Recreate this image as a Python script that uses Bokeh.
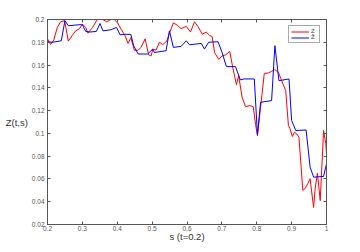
from bokeh.plotting import figure
from bokeh.models import Range1d, FixedTicker, LinearAxis, Legend, LegendItem
from bokeh.embed import file_html
from bokeh.resources import INLINE

# ---- data ----
red_s = [0.200, 0.2086, 0.218, 0.228, 0.2375, 0.249, 0.2597, 0.271, 0.2807, 0.292,
         0.300, 0.3095, 0.316, 0.329, 0.343, 0.358, 0.370, 0.3816, 0.391, 0.401,
         0.412, 0.422, 0.431, 0.439, 0.449, 0.460, 0.468, 0.480, 0.490, 0.497,
         0.502, 0.511, 0.521, 0.5305, 0.542, 0.5496, 0.561, 0.572, 0.583, 0.598,
         0.610, 0.6216, 0.631, 0.644, 0.655, 0.665, 0.672, 0.679, 0.691, 0.7006,
         0.711, 0.7225, 0.732, 0.7418, 0.748, 0.758, 0.7677, 0.780, 0.790, 0.7965,
         0.802, 0.8216, 0.833, 0.8426, 0.852, 0.862, 0.8715, 0.883, 0.8908, 0.8954,
         0.902, 0.908, 0.9147, 0.921, 0.932, 0.9386, 0.9464, 0.953, 0.963, 0.9675,
         0.974, 0.982, 0.9916, 0.998, 1.000]
red_z = [0.183, 0.178, 0.182, 0.193, 0.198, 0.199, 0.181, 0.186, 0.190, 0.192,
         0.196, 0.193, 0.188, 0.193, 0.200, 0.200, 0.198, 0.200, 0.200, 0.197,
         0.191, 0.186, 0.179, 0.184, 0.173, 0.173, 0.1755, 0.183, 0.169, 0.168,
         0.174, 0.173, 0.180, 0.178, 0.181, 0.188, 0.197, 0.195, 0.192, 0.194,
         0.189, 0.198, 0.194, 0.187, 0.189, 0.186, 0.185, 0.171, 0.165, 0.168,
         0.169, 0.172, 0.1566, 0.1428, 0.1507, 0.1317, 0.1235, 0.1244, 0.1235, 0.108,
         0.098, 0.1527, 0.153, 0.1545, 0.156, 0.1536, 0.1463, 0.1376, 0.107, 0.104,
         0.0973, 0.101, 0.0996, 0.0967, 0.050, 0.0515, 0.056, 0.0602, 0.035, 0.0515,
         0.065, 0.041, 0.1025, 0.091, 0.082]

blue_s = [0.200, 0.2135, 0.2395, 0.250, 0.2597, 0.290, 0.300, 0.3095, 0.322, 0.340,
          0.3507, 0.359, 0.3816, 0.398, 0.408, 0.4248, 0.439, 0.447, 0.460, 0.487,
          0.5017, 0.5063, 0.540, 0.5496, 0.561, 0.583, 0.598, 0.607, 0.641, 0.650,
          0.662, 0.689, 0.7006, 0.713, 0.739, 0.753, 0.764, 0.793, 0.802, 0.811,
          0.8426, 0.852, 0.8637, 0.8925, 0.900, 0.912, 0.9415, 0.953, 0.963, 0.9916,
          1.000]
blue_z = [0.1805, 0.180, 0.1813, 0.199, 0.1945, 0.1954, 0.1954, 0.1895, 0.189, 0.1895,
          0.1965, 0.190, 0.191, 0.193, 0.1866, 0.187, 0.187, 0.177, 0.1697, 0.1697,
          0.174, 0.171, 0.1726, 0.190, 0.1755, 0.1764, 0.1813, 0.1778, 0.179, 0.174,
          0.180, 0.1805, 0.171, 0.1586, 0.1586, 0.147, 0.1478, 0.1478, 0.099, 0.1273,
          0.1288, 0.177, 0.1463, 0.1478, 0.1113, 0.1025, 0.103, 0.0704, 0.0616, 0.0622,
          0.0733]

x_ticks = [0.2, 0.3, 0.4, 0.5, 0.6, 0.7, 0.8, 0.9, 1.0]
x_tick_labels = ["0.2", "0.3", "0.4", "0.5", "0.6", "0.7", "0.8", "0.9", "1"]
y_ticks = [0.02, 0.04, 0.06, 0.08, 0.1, 0.12, 0.14, 0.16, 0.18, 0.2]
y_tick_labels = ["0.02", "0.04", "0.06", "0.08", "0.1", "0.12", "0.14", "0.16", "0.18", "0.2"]
legend_labels = ["Z", "Ẑ"]

FONT = "Liberation Sans"
AX = "#555555"

p = figure(width=344, height=244, output_backend="svg", toolbar_location=None,
           x_range=Range1d(0.2, 1.0), y_range=Range1d(0.02, 0.2),
           min_border_left=47, min_border_right=18, min_border_top=19, min_border_bottom=20)
p.grid.visible = False
p.outline_line_color = AX
p.outline_line_width = 1
p.background_fill_color = "white"
p.border_fill_color = "white"

r_red = p.line(red_s, red_z, line_color="#ff0000", line_width=1)
r_blue = p.line(blue_s, blue_z, line_color="#0000ff", line_width=1)

def style(ax, ticks, labels, show):
    ax.ticker = FixedTicker(ticks=ticks)
    ax.major_label_overrides = {t: l for t, l in zip(ticks, labels)} if show else {t: "" for t in ticks}
    ax.minor_tick_line_color = None
    ax.major_tick_in = 3
    ax.major_tick_out = 0
    ax.axis_line_color = AX
    ax.major_tick_line_color = AX
    ax.major_label_text_font = FONT
    ax.major_label_text_font_size = "6.5px" if show else "0px"
    ax.major_label_text_color = "#555555"
    ax.axis_label_text_font = FONT
    ax.axis_label_text_font_style = "normal"
    ax.axis_label_text_font_size = "9.5px"
    ax.axis_label_text_color = "#333333"

xa = p.xaxis[0]
ya = p.yaxis[0]
style(xa, x_ticks, x_tick_labels, True)
style(ya, y_ticks, y_tick_labels, True)
xa.axis_label = "s (t=0.2)"
xa.major_label_standoff = 1
xa.axis_label_standoff = -3
ya.axis_label = "Z(t,s)"
ya.axis_label_orientation = "horizontal"
ya.major_label_standoff = 3
ya.axis_label_standoff = 1

top = LinearAxis()
right = LinearAxis()
style(top, x_ticks, x_tick_labels, False)
style(right, y_ticks, y_tick_labels, False)
for a in (top, right):
    a.major_label_standoff = 0
    a.axis_label_standoff = 0
p.add_layout(top, "above")
p.add_layout(right, "right")

legend = Legend(items=[LegendItem(label=legend_labels[0], renderers=[r_red]),
                       LegendItem(label=legend_labels[1], renderers=[r_blue])],
                location="top_right")
legend.label_text_font = FONT
legend.label_text_font_size = "6px"
legend.label_height = 5
legend.label_width = 6
legend.glyph_height = 5
legend.glyph_width = 18
legend.label_standoff = 2
legend.spacing = 0
legend.padding = 2
legend.margin = 6
legend.border_line_color = AX
legend.border_line_width = 1
legend.background_fill_alpha = 1
p.add_layout(legend)

open("out.html", "w").write(file_html(p, INLINE))
